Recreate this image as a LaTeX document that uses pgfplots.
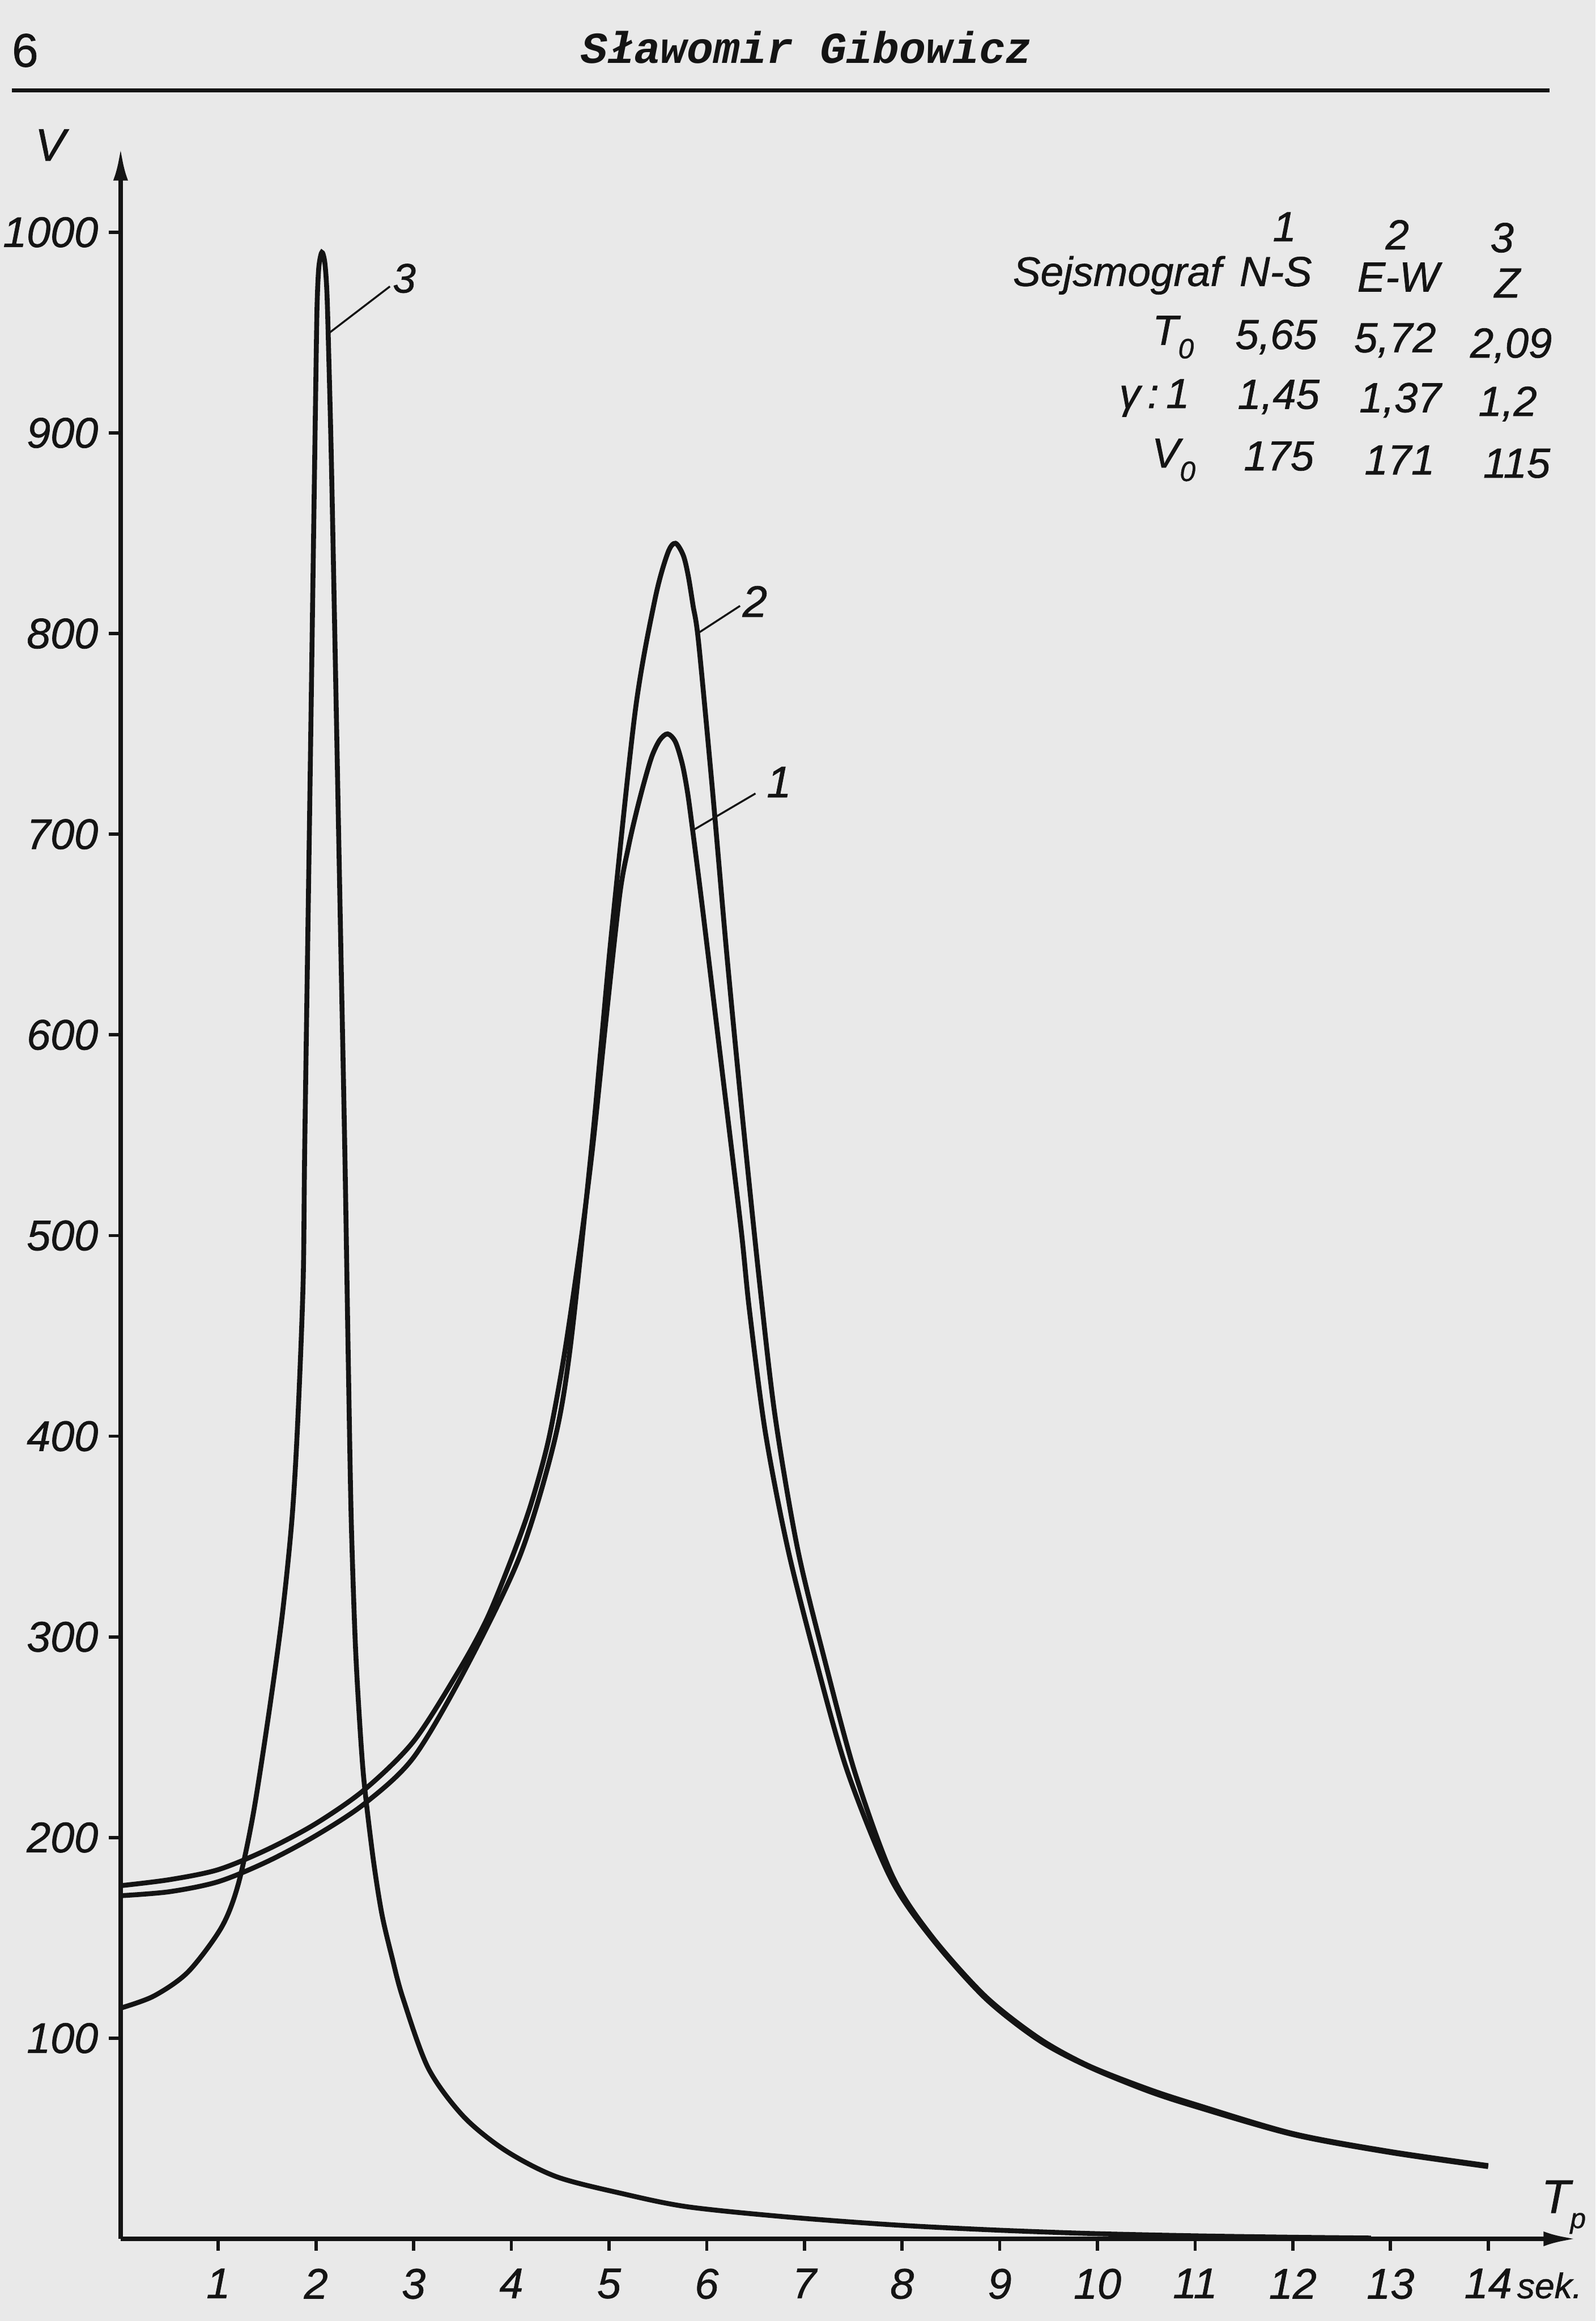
\documentclass[border=0pt]{standalone}
\usepackage{fontspec}
\setmainfont{Liberation Sans}
\newfontfamily\letf{Liberation Sans}[FakeBold=0.9]
\newfontfamily\hdrfont{Liberation Mono}
\usepackage{pgfplots}
\pgfplotsset{compat=1.18}
\usetikzlibrary{arrows.meta}
\definecolor{paper}{RGB}{233,233,233}
\definecolor{ink}{RGB}{20,20,20}
\newcommand{\lab}{\letf\fontsize{29}{30}\selectfont\itshape}
\newcommand{\tabf}{\letf\fontsize{28.5}{30}\selectfont\itshape}
\newcommand{\sub}[1]{\raisebox{-0.32em}{\fontsize{19}{19}\selectfont #1}}

\begin{document}
\begin{tikzpicture}[x=1bp,y=1bp]
\fill[paper] (0,0) rectangle (1078,1568);
\begin{axis}[
  at={(81.5bp,55.5bp)}, anchor=south west,
  scale only axis, width=983.4bp, height=1412.5bp,
  xmin=0, xmax=14.9, ymin=0, ymax=1042,
  axis x line=bottom, axis y line=left,
  axis line style={line width=2.8bp, draw=ink},
  x axis line style={-{Latex[length=22bp,width=10bp]}},
  y axis line style={-{Latex[length=22bp,width=10bp]}},
  xtick={1,2,...,14}, ytick={100,200,...,1000},
  xticklabels={1,2,3,4,5,6,7,8,9,10,11,12,13,{14\rlap{\hspace{3.5bp}\fontsize{24}{24}\selectfont sek.}}},
  yticklabels={100,200,300,400,500,600,700,800,900,1000},
  tick align=outside, major tick length=8bp,
  tick style={line width=2.2bp, draw=ink},
  ticklabel style={font=\lab, inner sep=0pt, text=ink},
  xticklabel shift=12bp, yticklabel shift=7bp,
  /pgf/number format/assume math mode=true,
  clip=false,
]
% curve 3 (Z)
\addplot[ink, line width=3.3bp, smooth, tension=0.5] table {
T V
0.00 115
0.34 121
0.69 133
1.03 155
1.20 176
1.355 211
1.518 262
1.655 311
1.753 358
1.811 405
1.868 476
1.885 545
1.93 694
1.97 830
2.004 944
2.014 968
2.03 983
2.06 990
2.09 985
2.112 970
2.13 940
2.158 885
2.206 766
2.253 647
2.296 540
2.33 440
2.36 360
2.40 300
2.44 263
2.49 229
2.584 190
2.674 162
2.78 140
2.89 120
3.15 85
3.51 61
3.94 44
4.46 31
5.14 22.5
5.8 16
6.8 11
7.9 7
8.9 4.5
9.9 2.7
11.0 1.5
12.0 0.8
12.8 0.4
};
% curve 1 (N-S)
\addplot[ink, line width=3.3bp, smooth, tension=0.5] table {
T V
0.0 176
0.5 179
1.0 184
1.5 194
2.0 207
2.5 224
3.0 248
3.46 283
3.75 309
4.01 340
4.2 366
4.38 398
4.54 440
4.7 493
4.83 543
4.97 608
5.11 670
5.2 694
5.28 711
5.36 726
5.44 739
5.52 747
5.6 750
5.68 746
5.75 735
5.8 722
5.84 708
5.947 667
6.148 586
6.35 504
6.437 463
6.6 402
6.83 344
7.12 288
7.44 233
7.88 180
8.3 150
8.85 120
9.4 99
9.9 86
10.5 74
11.0 66
12.0 52
13.0 43
14.0 36
};
% curve 2 (E-W)
\addplot[ink, line width=3.3bp, smooth, tension=0.5] table {
T V
0.0 171
0.5 173
1.0 178
1.5 188
2.0 201
2.5 217
3.0 240
3.53 284
4.085 340
4.433 396
4.6 443
4.82 543
4.91 590
5.03 653
5.27 762
5.47 817
5.6 840
5.68 845
5.76 839
5.81 829
5.86 814
5.916 796
6.059 722
6.206 640
6.366 559
6.54 477
6.7 410
6.93 344
7.21 288
7.52 232
7.9 181
8.3 151
8.85 121
9.4 100
9.9 86.5
10.5 75
11.0 67
12.0 52.5
13.0 43.5
14.0 36.5
};
% curve labels
\draw[ink, line width=1.3bp] (axis cs:2.14,950) -- (axis cs:2.757,973);
\node[font=\letf\fontsize{28}{28}\selectfont\itshape, text=ink] at (axis cs:2.904,977) {3};
\draw[ink, line width=1.3bp] (axis cs:5.905,800) -- (axis cs:6.341,813.8);
\node[font=\letf\fontsize{30}{30}\selectfont\itshape, text=ink] at (axis cs:6.493,816) {2};
\draw[ink, line width=1.3bp] (axis cs:5.86,702) -- (axis cs:6.499,720.3);
\node[font=\letf\fontsize{30}{30}\selectfont\itshape, text=ink] at (axis cs:6.74,726) {1};
\end{axis}
% axis names
\node[font=\letf\fontsize{31}{31}\selectfont\itshape, text=ink] at (34,1470) {V};
\node[anchor=base west, font=\letf\fontsize{32}{32}\selectfont\itshape, text=ink] at (1038,73) {T\sub{p}};
% header
\node[font=\letf\fontsize{32}{32}\selectfont, text=ink] at (17,1533.9) {6};
\node[font=\hdrfont\fontsize{30}{30}\selectfont\bfseries\itshape, text=ink] at (545,1535.8) {Sławomir Gibowicz};
\draw[ink, line width=2.8bp] (8,1507) -- (1047,1507);
% table
\begin{scope}[every node/.style={anchor=base, font=\tabf, text=ink, inner sep=0pt}]
\node at (867.9,1405) {1};
\node at (944.1,1399.5) {2};
\node at (1014.9,1397.6) {3};
\node[font=\letf\fontsize{28}{30}\selectfont\itshape] at (755,1374.8) {Sejsmograf};
\node at (862,1374.7) {N-S};
\node at (944.7,1371) {E-W};
\node at (1018.4,1367) {Z};
\node at (792.7,1335) {T\sub{0}};
\node at (862.3,1332.2) {5,65};
\node at (942.6,1330) {5,72};
\node at (1021,1326.4) {2,09};
\node at (780,1292.3) {γ\,:\,1};
\node at (863.9,1291.8) {1,45};
\node at (946.1,1289.5) {1,37};
\node at (1018.7,1287) {1,2};
\node at (793,1252.1) {V\sub{0}};
\node at (864.1,1250.2) {175};
\node at (945.7,1247.5) {171};
\node at (1024.8,1245.3) {115};
\end{scope}
\end{tikzpicture}
\end{document}
